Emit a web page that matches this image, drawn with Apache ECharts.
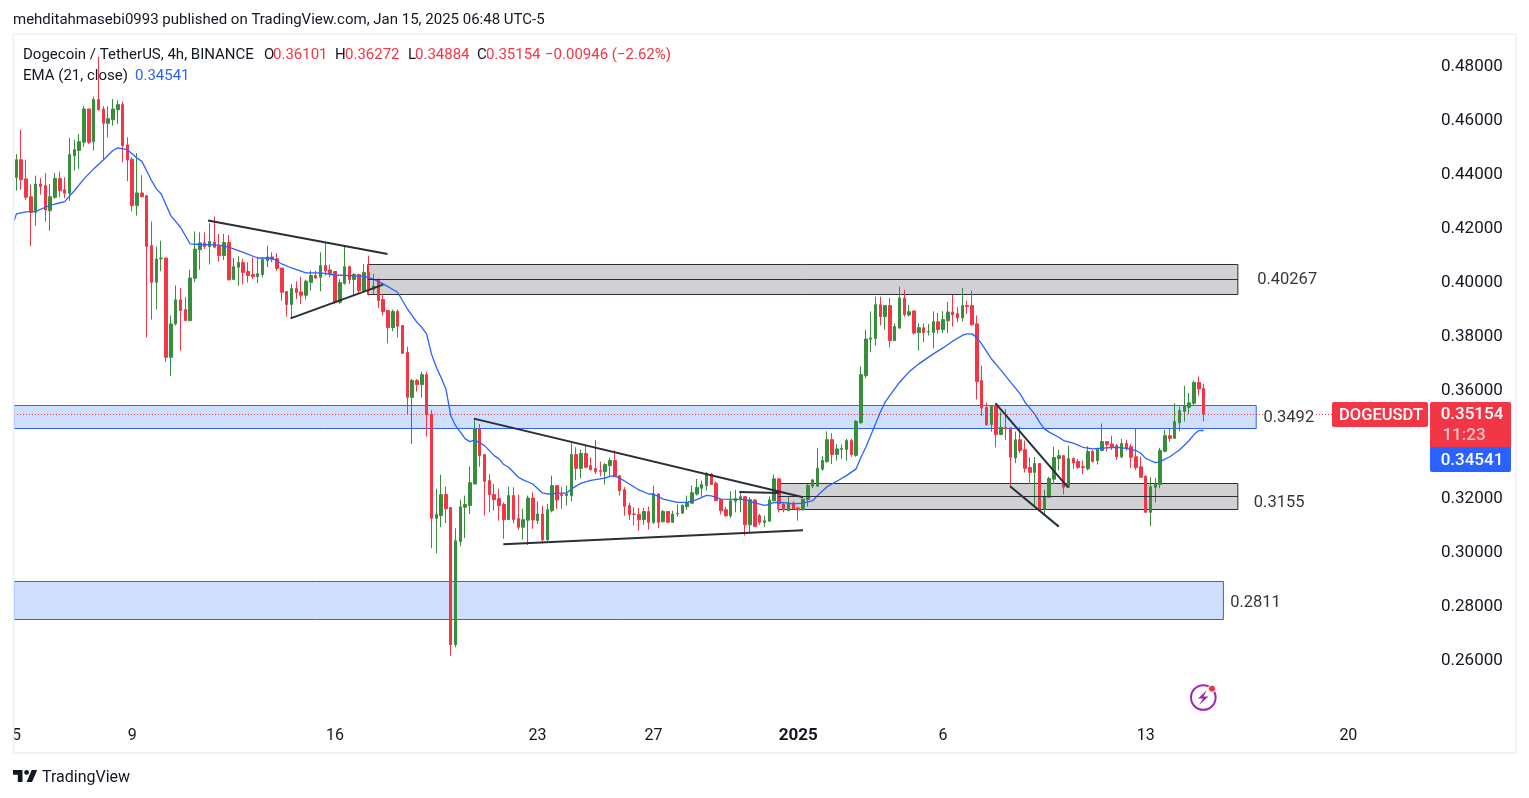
<!DOCTYPE html>
<html>
<head>
<meta charset="utf-8">
<title>DOGEUSDT 4h</title>
<style>
  html, body { margin: 0; padding: 0; background: #fff; }
  #chart { width: 1529px; height: 798px; }
</style>
</head>
<body>
<div id="chart"></div>
<script src="https://cdn.jsdelivr.net/npm/echarts@6/dist/echarts.min.js"></script>
<script>
// one row per 4h bar: open, high, low, close
const ohlc = [
  [.4392,.4478,.4343,.4457],[.4457,.4568,.4346,.4383],[.4386,.4457,.4308,.4318],[.4320,.4365,.4136,.4262],
  [.4262,.4398,.4213,.4367],[.4367,.4389,.4328,.4358],[.4361,.4408,.4228,.4271],[.4268,.4367,.4194,.4320],
  [.4318,.4408,.4312,.4387],[.4387,.4413,.4318,.4342],[.4346,.4392,.4315,.4333],[.4333,.4538,.4305,.4476],
  [.4472,.4531,.4417,.4494],[.4491,.4552,.4423,.4524],[.4522,.4657,.4505,.4645],[.4645,.4645,.4515,.4522],
  [.4524,.4691,.4491,.4680],[.4680,.4839,.4639,.4642],[.4645,.4655,.4457,.4592],[.4592,.4655,.4540,.4609],
  [.4605,.4682,.4583,.4645],[.4642,.4678,.4589,.4661],[.4661,.4672,.4447,.4509],[.4512,.4540,.4377,.4456],
  [.4458,.4466,.4266,.4287],[.4287,.4482,.4250,.4334],[.4334,.4400,.4318,.4320],[.4324,.4324,.3799,.4136],
  [.4139,.4228,.3865,.4003],[.4003,.4135,.3902,.4089],[.4090,.4157,.4044,.4093],[.4093,.4093,.3709,.3725],
  [.3725,.3880,.3655,.3849],[.3849,.3991,.3843,.3938],[.3938,.3982,.3750,.3898],[.3902,.3948,.3861,.3861],
  [.3861,.4050,.3861,.4019],[.4018,.4191,.4003,.4126],[.4124,.4188,.4050,.4149],[.4149,.4188,.4126,.4135],
  [.4135,.4222,.4069,.4154],[.4152,.4247,.4130,.4133],[.4137,.4182,.4080,.4102],[.4102,.4182,.4086,.4150],
  [.4150,.4178,.4009,.4013],[.4013,.4093,.4013,.4061],[.4059,.4100,.3991,.4076],[.4076,.4090,.3995,.4039],
  [.4043,.4077,.4002,.4028],[.4032,.4096,.4015,.4024],[.4024,.4098,.4000,.4035],[.4032,.4096,.4022,.4087],
  [.4084,.4139,.4059,.4097],[.4097,.4114,.4077,.4087],[.4090,.4111,.4044,.4054],[.4056,.4056,.3935,.3966],
  [.3969,.3969,.3876,.3921],[.3921,.3997,.3871,.3980],[.3980,.4006,.3941,.3965],[.3967,.4024,.3923,.3955],
  [.3955,.4013,.3939,.4007],[.4003,.4046,.3972,.4028],[.4028,.4046,.4015,.4019],[.4022,.4114,.3970,.4065],
  [.4065,.4151,.4028,.4046],[.4049,.4069,.4022,.4036],[.4043,.4043,.3923,.3929],[.3929,.4015,.3923,.4002],
  [.3999,.4139,.3994,.4061],[.4061,.4065,.3997,.4013],[.4013,.4037,.3956,.4032],[.4032,.4034,.3960,.3972],
  [.3972,.4071,.3966,.4039],[.4039,.4102,.3954,.3972],[.3976,.4034,.3960,.3989],[.4015,.4015,.3908,.3935],
  [.3939,.3960,.3880,.3895],[.3899,.3899,.3777,.3835],[.3835,.3902,.3822,.3895],[.3895,.3902,.3799,.3840],
  [.3843,.3843,.3738,.3740],[.3743,.3765,.3513,.3577],[.3577,.3645,.3404,.3639],[.3639,.3645,.3598,.3624],
  [.3624,.3672,.3577,.3661],[.3661,.3672,.3431,.3513],[.3515,.3530,.3018,.3129],[.3129,.3238,.2999,.3143],
  [.3139,.3291,.3096,.3217],[.3217,.3246,.3111,.3164],[.3169,.3169,.2620,.2661],[.2661,.3092,.2651,.3046],
  [.3043,.3198,.3025,.3172],[.3170,.3213,.3055,.3180],[.3176,.3320,.3145,.3261],[.3256,.3501,.3254,.3460],
  [.3460,.3478,.3320,.3361],[.3365,.3367,.3139,.3266],[.3269,.3293,.3151,.3217],[.3217,.3256,.3157,.3198],
  [.3202,.3238,.3120,.3176],[.3180,.3188,.3053,.3124],[.3124,.3246,.3124,.3213],[.3213,.3244,.3110,.3124],
  [.3128,.3217,.3086,.3096],[.3096,.3164,.3050,.3124],[.3122,.3213,.3030,.3204],[.3204,.3225,.3090,.3123],
  [.3121,.3192,.3108,.3145],[.3145,.3176,.3036,.3049],[.3049,.3182,.3046,.3161],[.3157,.3287,.3151,.3250],
  [.3250,.3250,.3164,.3197],[.3217,.3244,.3164,.3213],[.3213,.3250,.3176,.3219],[.3213,.3407,.3192,.3365],
  [.3365,.3392,.3270,.3314],[.3314,.3383,.3277,.3369],[.3369,.3398,.3314,.3318],[.3324,.3355,.3306,.3309],
  [.3313,.3419,.3293,.3302],[.3306,.3339,.3285,.3303],[.3302,.3333,.3254,.3328],[.3324,.3353,.3287,.3343],
  [.3343,.3380,.3281,.3283],[.3287,.3287,.3213,.3231],[.3235,.3244,.3139,.3173],[.3176,.3186,.3123,.3143],
  [.3145,.3170,.3102,.3143],[.3143,.3167,.3083,.3124],[.3124,.3167,.3105,.3154],[.3154,.3172,.3087,.3114],
  [.3114,.3250,.3108,.3219],[.3219,.3222,.3092,.3114],[.3116,.3160,.3114,.3154],[.3154,.3154,.3112,.3114],
  [.3114,.3157,.3112,.3145],[.3146,.3180,.3135,.3148],[.3148,.3180,.3145,.3177],[.3172,.3213,.3161,.3188],
  [.3185,.3250,.3182,.3224],[.3219,.3275,.3213,.3243],[.3240,.3269,.3207,.3254],[.3250,.3299,.3231,.3296],
  [.3293,.3296,.3254,.3254],[.3259,.3266,.3194,.3194],[.3198,.3198,.3143,.3157],[.3161,.3172,.3135,.3138],
  [.3138,.3229,.3130,.3194],[.3192,.3234,.3151,.3202],[.3200,.3225,.3151,.3209],[.3209,.3209,.3065,.3105],
  [.3105,.3207,.3073,.3198],[.3197,.3200,.3096,.3099],[.3139,.3145,.3105,.3114],[.3114,.3139,.3096,.3120],
  [.3118,.3210,.3118,.3197],[.3194,.3291,.3194,.3275],[.3275,.3278,.3151,.3182],[.3182,.3188,.3151,.3160],
  [.3157,.3210,.3157,.3186],[.3186,.3192,.3160,.3164],[.3167,.3172,.3120,.3160],[.3160,.3200,.3160,.3200],
  [.3198,.3256,.3172,.3250],[.3248,.3275,.3241,.3271],[.3248,.3389,.3248,.3314],[.3311,.3359,.3305,.3343],
  [.3339,.3451,.3334,.3420],[.3420,.3444,.3330,.3365],[.3365,.3404,.3343,.3386],[.3384,.3402,.3349,.3387],
  [.3384,.3423,.3343,.3417],[.3417,.3423,.3357,.3365],[.3362,.3493,.3357,.3488],[.3483,.3691,.3479,.3661],
  [.3657,.3828,.3648,.3793],[.3792,.3895,.3744,.3797],[.3795,.3950,.3769,.3920],[.3920,.3950,.3843,.3876],
  [.3876,.3917,.3828,.3917],[.3917,.3945,.3762,.3787],[.3787,.3851,.3787,.3839],[.3834,.3987,.3830,.3945],
  [.3945,.3975,.3876,.3883],[.3882,.3920,.3876,.3894],[.3897,.3897,.3809,.3815],[.3817,.3851,.3750,.3835],
  [.3835,.3851,.3781,.3817],[.3819,.3849,.3806,.3821],[.3817,.3895,.3759,.3857],[.3857,.3890,.3812,.3828],
  [.3828,.3896,.3815,.3865],[.3861,.3931,.3815,.3893],[.3893,.3956,.3839,.3883],[.3887,.3911,.3855,.3871],
  [.3871,.3982,.3858,.3917],[.3917,.3935,.3886,.3913],[.3917,.3972,.3843,.3846],[.3849,.3880,.3569,.3635],
  [.3639,.3694,.3507,.3537],[.3539,.3558,.3472,.3475],[.3476,.3544,.3450,.3544],[.3546,.3555,.3392,.3439],
  [.3439,.3522,.3439,.3466],[.3466,.3534,.3419,.3460],[.3464,.3464,.3246,.3355],[.3353,.3450,.3333,.3420],
  [.3420,.3469,.3370,.3380],[.3383,.3417,.3299,.3314],[.3317,.3355,.3256,.3299],[.3299,.3356,.3170,.3332],
  [.3332,.3332,.3157,.3164],[.3164,.3234,.3145,.3209],[.3207,.3283,.3207,.3276],[.3274,.3394,.3256,.3354],
  [.3350,.3383,.3306,.3361],[.3361,.3364,.3217,.3244],[.3244,.3398,.3241,.3350],[.3350,.3355,.3312,.3334],
  [.3339,.3349,.3312,.3317],[.3320,.3343,.3293,.3317],[.3312,.3396,.3306,.3376],[.3377,.3382,.3335,.3340],
  [.3343,.3390,.3328,.3386],[.3380,.3480,.3377,.3413],[.3413,.3413,.3377,.3402],[.3404,.3435,.3382,.3394],
  [.3398,.3404,.3345,.3357],[.3357,.3423,.3351,.3406],[.3406,.3419,.3380,.3388],[.3394,.3404,.3315,.3355],
  [.3357,.3460,.3308,.3317],[.3320,.3357,.3278,.3281],[.3285,.3287,.3151,.3151],[.3151,.3281,.3099,.3246],
  [.3244,.3278,.3188,.3256],[.3254,.3390,.3240,.3380],[.3377,.3456,.3373,.3435],[.3435,.3460,.3413,.3425],
  [.3425,.3555,.3425,.3487],[.3483,.3543,.3451,.3528],[.3525,.3620,.3487,.3544],[.3540,.3593,.3515,.3557],
  [.3555,.3639,.3546,.3632],[.3632,.3654,.3583,.3608],[.36101,.36272,.34884,.35154]
];

// EMA as [bar, price]
const emaPoints = [
  [-0.5,.4231],[0,.4256],[2,.4264],[4,.4266],[6,.4281],[8,.4293],[10,.4302],[12,.4342],[14,.4386],[16,.4423],
  [18,.4456],[20,.4491],[21,.4501],[23,.4494],[25,.4463],[26,.4451],[28,.4380],[29,.4349],[30,.4330],[32,.4250],
  [34,.4207],[36,.4145],[38,.4143],[42,.4141],[44,.4133],[47,.4114],[50,.4093],[53,.4092],[55,.4071],[57,.4056],
  [60,.4038],[63,.4038],[66,.4030],[69,.4028],[72,.4025],[74,.4015],[76,.3997],[79,.3966],[81,.3905],[83,.3855],
  [84,.3836],[85,.3812],[86,.3738],[87,.3689],[88,.3650],[89,.3608],[90,.3509],[91,.3472],[92,.3448],[93,.3423],
  [94,.3413],[95,.3419],[97,.3398],[99,.3361],[100,.3349],[101,.3328],[102,.3318],[104,.3281],[105,.3271],[107,.3256],
  [109,.3223],[110,.3219],[113,.3222],[114,.3222],[115,.3238],[117,.3259],[119,.3269],[122,.3278],[123,.3285],[124,.3286],
  [125,.3278],[127,.3256],[129,.3234],[131,.3219],[132,.3219],[134,.3200],[137,.3188],[139,.3188],[141,.3198],[143,.3214],
  [144,.3212],[146,.3200],[149,.3199],[151,.3198],[153,.3186],[155,.3177],[156,.3180],[157,.3188],[159,.3187],[161,.3182],
  [163,.3185],[165,.3194],[166,.3213],[168,.3246],[170,.3266],[172,.3287],[174,.3312],[175,.3355],[176,.3392],[177,.3435],
  [178,.3478],[179,.3522],[180,.3559],[181,.3584],[182,.3608],[183,.3633],[185,.3672],[187,.3701],[190,.3738],[192,.3760],
  [194,.3785],[196,.3806],[197,.3812],[198,.3812],[199,.3799],[200,.3775],[202,.3720],[204,.3678],[206,.3633],[208,.3590],
  [209,.3559],[211,.3515],[212,.3485],[213,.3460],[214,.3448],[216,.3429],[217,.3417],[219,.3407],[221,.3392],[223,.3386],
  [225,.3389],[228,.3392],[230,.3388],[232,.3380],[233,.3370],[234,.3351],[235,.3343],[236,.3335],[237,.3339],[239,.3357],
  [241,.3382],[243,.3417],[244,.3439],[245,.3454],[246,.34541]
];

const tickBars = [0, 24, 66, 108, 132, 162, 192, 234, 276];
const tickLabels = ['5', '9', '16', '23', '27', '2025', '6', '13', '20'];
const priceTicks = [.26, .28, .30, .32, .34, .36, .38, .40, .42, .44, .46, .48];
const barCount = 293;
const lastClose = .35154;
const emaLast = .34541;

// drawn zones: from bar, to bar, top price, bottom price
const greyZones = [
  [72.8, 253.1, .40689, .39578],
  [157.8, 253.1, .32578, .31615]
];
const blueZones = [
  [-2, 256.9, .35467, .34615],
  [-2, 250.1, .28948, .27541]
];
// trend lines: bar, price, bar, price
const trendLines = [
  [39.7, .42315, 76.9, .41081],
  [56.8, .38696, 76.0, .39944],
  [94.8, .34981, 163.0, .32067],
  [100.9, .30326, 163.0, .30844],
  [149.8, .32259, 158.1, .32230],
  [202.9, .35548, 217.9, .32437],
  [205.9, .32474, 216.0, .30981]
];
const zoneLabels = [
  [257.1, .4012, '0.40267'],
  [258.4, .3501, '0.3492'],
  [256.4, .3186, '0.3155'],
  [251.5, .2815, '0.2811']
];

const UP = '#388E3C';
const DOWN = '#F23645';
const BLUE = '#2962FF';
const INK = '#131722';
const LINE = '#2A2E39';
const FONT = 'Roboto, sans-serif';

const categories = [];
for (let i = 0; i < barCount; i++) {
  const t = tickBars.indexOf(i);
  categories.push(t >= 0 ? tickLabels[t] : '');
}

function text(x, y, str, fill, size, weight, align) {
  return {
    type: 'text', x: x, y: y, z: 50, silent: true,
    style: {
      text: str, fill: fill, font: (weight || 400) + ' ' + (size || 15) + 'px ' + FONT,
      textAlign: align || 'left', textVerticalAlign: 'middle'
    }
  };
}

function box(x, y, w, h, fill, r) {
  return { type: 'rect', z: 49, silent: true, shape: { x: x, y: y, width: w, height: h, r: r || 0 }, style: { fill: fill } };
}

const areaData = [];
const lineData = [];
greyZones.forEach(function (z) {
  areaData.push([
    { coord: [z[0], z[2]], itemStyle: { color: '#D1D1D3', borderColor: LINE, borderWidth: 1 } },
    { coord: [z[1], z[3]] }
  ]);
  const mid = (z[2] + z[3]) / 2;
  lineData.push([
    { coord: [z[0], mid], lineStyle: { color: LINE, width: 1, type: 'solid' } },
    { coord: [z[1], mid] }
  ]);
});
blueZones.forEach(function (z) {
  areaData.push([
    { coord: [z[0], z[2]], itemStyle: { color: '#D1DFFE', borderColor: BLUE, borderWidth: 1 } },
    { coord: [z[1], z[3]] }
  ]);
});
trendLines.forEach(function (t) {
  lineData.push([
    { coord: [t[0], t[1]], lineStyle: { color: LINE, width: 2, type: 'solid' } },
    { coord: [t[2], t[3]] }
  ]);
});
// last price line
lineData.push([
  { coord: [-0.5, lastClose], lineStyle: { color: DOWN, width: 1, type: [1, 2] } },
  { coord: [barCount - 0.5, lastClose] }
]);

const chart = echarts.init(document.getElementById('chart'), null, { renderer: 'canvas' });
chart.setOption({
  animation: false,
  backgroundColor: '#fff',
  textStyle: { fontFamily: FONT },
  grid: { left: 14, top: 36.6, width: 1414, height: 676, containLabel: false },
  xAxis: [
    {
      type: 'category',
      data: categories,
      axisLine: { show: false },
      axisTick: { show: false },
      splitLine: { show: false },
      axisLabel: {
        interval: function (i, v) { return v !== ''; },
        margin: 15,
        fontSize: 16,
        color: INK,
        hideOverlap: false,
        formatter: function (v) { return v === '2025' ? '{y|2025}' : v; },
        rich: { y: { fontSize: 17, fontWeight: 700, color: INK, fontFamily: FONT } }
      }
    },
    { type: 'value', show: false, min: -0.5, max: barCount - 0.5, splitLine: { show: false } }
  ],
  yAxis: {
    type: 'value',
    position: 'right',
    min: .24093,
    max: .4913,
    axisLine: { show: false },
    axisTick: { show: false },
    splitLine: { show: false },
    axisLabel: {
      customValues: priceTicks,
      margin: 13,
      padding: [5, 0, 0, 0],
      fontSize: 17,
      color: INK,
      formatter: function (v) { return v.toFixed(5); }
    }
  },
  series: [
    {
      type: 'candlestick',
      z: 2,
      barWidth: 3,
      data: ohlc.map(function (r) { return [r[0], r[3], r[2], r[1]]; }),
      itemStyle: { color: UP, color0: DOWN, borderColor: UP, borderColor0: DOWN, borderWidth: 1 }
    },
    {
      type: 'line',
      z: 3,
      xAxisIndex: 1,
      data: emaPoints,
      showSymbol: false,
      lineStyle: { color: BLUE, width: 1.3 },
      markArea: { silent: true, data: areaData },
      markLine: {
        silent: true,
        symbol: ['none', 'none'],
        label: { show: false },
        data: lineData
      }
    },
    {
      type: 'scatter',
      z: 6,
      xAxisIndex: 1,
      symbolSize: 0,
      data: zoneLabels.map(function (l) { return { value: [l[0], l[1]], name: l[2] }; }),
      label: {
        show: true,
        position: 'right',
        distance: 0,
        formatter: '{b}',
        color: '#000',
        backgroundColor: '#fff',
        fontSize: 16.5
      }
    }
  ],
  graphic: [
    { type: 'rect', z: 48, silent: true, shape: { x: 13.5, y: 34, width: 1502.5, height: 719 }, style: { fill: 'none', stroke: '#F0F3FA', lineWidth: 2 } },
    text(13, 20, 'mehditahmasebi0993 published on TradingView.com, Jan 15, 2025 06:48 UTC-5', INK),
    text(23, 55, 'Dogecoin / TetherUS, 4h, BINANCE', INK),
    text(264, 55, 'O', INK), text(273, 55, '0.36101', DOWN),
    text(335, 55, 'H', INK), text(345, 55, '0.36272', DOWN),
    text(408, 55, 'L', INK), text(415, 55, '0.34884', DOWN),
    text(477, 55, 'C', INK), text(486, 55, '0.35154', DOWN),
    text(545, 55, '\u22120.00946 (\u22122.62%)', DOWN),
    text(23, 76, 'EMA (21, close)', INK),
    text(135, 76, '0.34541', BLUE),
    box(1332, 402, 96, 25, DOWN, 2),
    text(1381, 416, 'DOGEUSDT', '#fff', 16.5, 500, 'center'),
    box(1430, 402, 81, 45, DOWN, [2, 2, 0, 0]),
    text(1472, 415, '0.35154', '#fff', 17, 500, 'center'),
    text(1464, 436, '11:23', '#FBC1C7', 17, 500, 'center'),
    box(1430, 447, 81, 25, BLUE, [0, 0, 2, 2]),
    text(1472, 461, emaLast.toFixed(5), '#fff', 17, 500, 'center'),
    { type: 'circle', z: 49, silent: true, shape: { cx: 1203.3, cy: 697.5, r: 12.3 }, style: { fill: 'none', stroke: '#9C27B0', lineWidth: 2 } },
    { type: 'polygon', z: 49, silent: true, shape: { points: [[1207, 690], [1198, 698.5], [1203, 698.5], [1199, 705], [1208.5, 696.5], [1203.5, 696.5]] }, style: { fill: '#9C27B0' } },
    { type: 'circle', z: 50, silent: true, shape: { cx: 1212, cy: 688.7, r: 3.6 }, style: { fill: DOWN, stroke: '#fff', lineWidth: 1 } },
    { type: 'polygon', z: 49, silent: true, shape: { points: [[13, 770], [22.5, 770], [22.5, 782], [17.8, 782], [17.8, 774.8], [13, 774.8]] }, style: { fill: INK } },
    { type: 'polygon', z: 49, silent: true, shape: { points: [[31.7, 770], [37.2, 770], [32, 782], [26.6, 782]] }, style: { fill: INK } },
    { type: 'circle', z: 49, silent: true, shape: { cx: 26.6, cy: 772.4, r: 2.4 }, style: { fill: INK } },
    text(42, 778, 'TradingView', INK, 16)
  ]
});
</script>
</body>
</html>
